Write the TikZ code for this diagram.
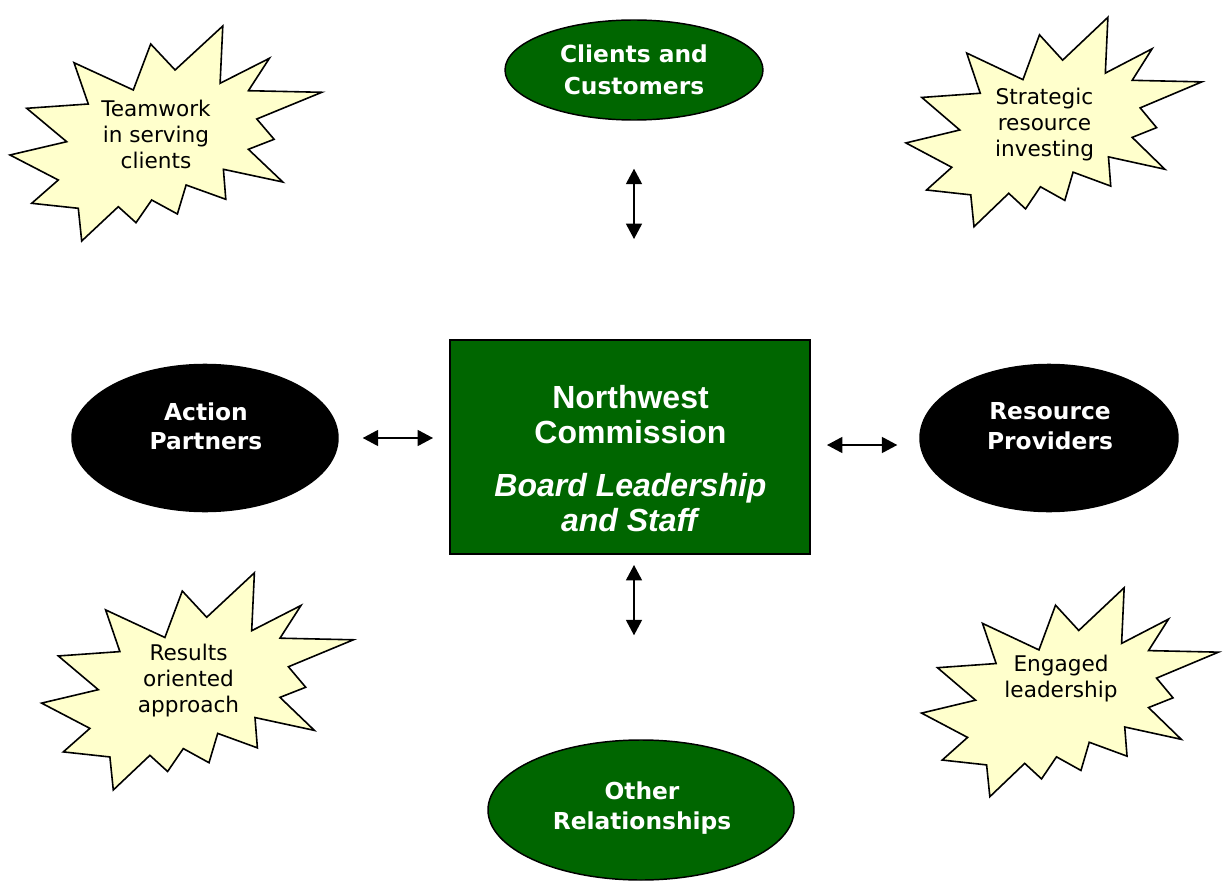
\documentclass[tikz,border=0pt]{standalone}
\usepackage{fontspec}
\setmainfont{DejaVu Sans}
\newfontfamily\arialfont{Liberation Sans}
\usetikzlibrary{shapes.geometric}
\usetikzlibrary{arrows.meta}
\definecolor{boardgreen}{RGB}{0,102,0}
\definecolor{burstyellow}{RGB}{255,255,204}

\tikzset{
  greenell/.style={ellipse, draw=black, line width=1.1pt, fill=boardgreen, inner sep=0pt},
  blackell/.style={ellipse, draw=black, line width=1.1pt, fill=black, inner sep=0pt},
  elltext/.style={align=center, text=white, inner sep=0pt, font=\fontsize{17.5}{22}\selectfont\bfseries},
  bursttext/.style={align=center, inner sep=0pt, font=\fontsize{16.2}{19.5}\selectfont},
  twoway/.style={{Triangle[length=11.5pt,width=12pt]}-{Triangle[length=11.5pt,width=12pt]}, line width=1pt},
  burst/.pic={
    \draw[yscale=-1, fill=burstyellow, line width=1.2pt] (56.9,-107.5) -- (54.2,-50.2) -- (103.5,-75.2) -- (82.5,-42.8)
      -- (155.9,-41.2) -- (90.9,-14.5) -- (108.2,5.8) -- (82.5,15.8) -- (116.9,48.5) -- (57.5,35.8)
      -- (59.9,65.8) -- (20.2,51.5) -- (11.5,80.5) -- (-14.2,66.5) -- (-29.9,89.2) -- (-47.6,73.2)
      -- (-84.2,107.5) -- (-87.6,74.8) -- (-134.2,69.8) -- (-107.6,46.5) -- (-155.9,21.5) -- (-99.2,8.2)
      -- (-139.2,-25.2) -- (-77.6,-29.5) -- (-91.9,-70.8) -- (-32.6,-43.5) -- (-15.2,-89.5) -- (9.2,-63.5)
      -- cycle;
  }
}

\begin{document}
\begin{tikzpicture}[x=0.75pt,y=0.75pt,yscale=-1,xscale=1]
\useasboundingbox (0,0) rectangle (1225,892);

%Shape: Explosion
\pic at (165.9,133.5) {burst};
\pic[xscale=0.949,yscale=0.974] at (1053.9,122) {burst};
\pic[yscale=1.01] at (197.5,681.4) {burst};
\pic[xscale=0.952,yscale=0.972] at (1070,692.2) {burst};

%Shape: Ellipses
\node[greenell, minimum width=193.5pt, minimum height=75pt] (clients) at (634,70) {};
\node[blackell, minimum width=199.5pt, minimum height=110.3pt] (action) at (205,438) {};
\node[blackell, minimum width=193.5pt, minimum height=110.3pt] (resource) at (1049,438) {};
\node[greenell, minimum width=229.5pt, minimum height=105pt] (other) at (641,810) {};

%Shape: Rectangle
\node[draw=black, line width=1.5pt, fill=boardgreen, minimum width=270pt, minimum height=160.5pt, inner sep=0pt] (box) at (630,447) {};

%Straight Lines
\draw[twoway, shorten <=36pt, shorten >=75pt] (clients.south) -- (clients.south |- box.north);
\draw[twoway, shorten <=18pt, shorten >=12pt] (action.east) -- (action.east -| box.west);
\draw[twoway, shorten <=12pt, shorten >=16.5pt] ([yshift=-1.5pt]box.east) -- ([yshift=-1.5pt]box.east -| resource.west);
\draw[twoway, shorten <=7.5pt, shorten >=78pt] (box.south -| clients.south) -- (clients.south |- other.north);

% Text Node
\node[elltext, font=\fontsize{17.5}{24}\selectfont\bfseries] (clientstxt) at (634,70) {Clients and\\Customers};
% Text Node
\node[elltext] (actiontxt) at (206,426) {Action\\Partners};
% Text Node
\node[elltext] (resourcetxt) at (1050,426) {Resource\\Providers};
% Text Node
\node[elltext] (othertxt) at (642,808) {Other\\Relationships};
% Text Node
\node[align=center, text=white, inner sep=0pt, font=\arialfont\fontsize{24}{26}\selectfont\bfseries] (boxtxt) at (630.5,458.5)
  {Northwest\\Commission\\[14pt]\textit{Board Leadership}\\\textit{and Staff}};
% Text Node
\node[bursttext] (teamtxt) at (156,134) {Teamwork\\in serving\\clients};
% Text Node
\node[bursttext] (strattxt) at (1044.5,125) {Strategic\\resource\\investing};
% Text Node
\node[bursttext] (resulttxt) at (188.5,681) {Results\\oriented\\approach};
% Text Node
\node[bursttext] (engagetxt) at (1061,679) {Engaged\\leadership};

\end{tikzpicture}
\end{document}
